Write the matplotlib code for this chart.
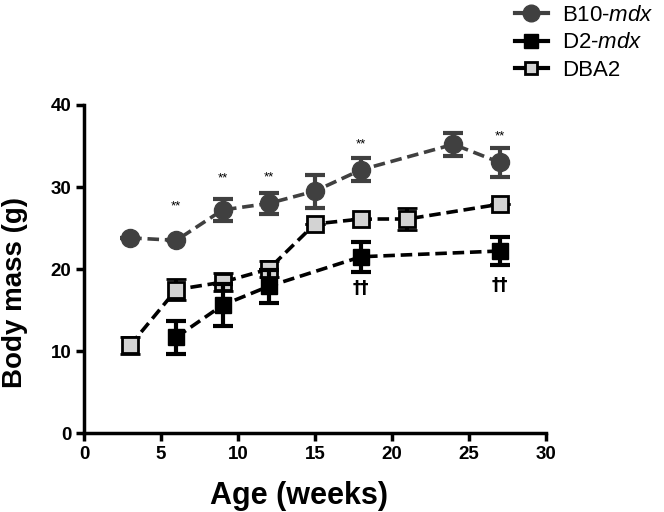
import numpy as np
import matplotlib
matplotlib.use('Agg')
import matplotlib.pyplot as plt
from matplotlib.lines import Line2D

plt.rcParams['font.family'] = ['Liberation Sans', 'DejaVu Sans']
plt.rcParams['mathtext.fontset'] = 'custom'
plt.rcParams['mathtext.it'] = 'Liberation Sans:italic'
plt.rcParams['mathtext.rm'] = 'Liberation Sans'

# B10-mdx
b10_age = [3, 6, 9, 12, 15, 18, 24, 27]
b10_mass = [23.8, 23.5, 27.2, 28.0, 29.5, 32.1, 35.2, 33.0]
b10_err = [0.0, 0.0, 1.3, 1.25, 2.0, 1.4, 1.4, 1.8]

# D2-mdx
d2_age = [6, 9, 12, 18, 27]
d2_mass = [11.7, 15.6, 17.9, 21.5, 22.2]
d2_err = [2.0, 2.6, 2.0, 1.8, 1.65]

# DBA2
dba_age = [3, 6, 9, 12, 15, 18, 21, 27]
dba_mass = [10.7, 17.5, 18.4, 20.0, 25.5, 26.1, 26.1, 27.9]
dba_err = [1.0, 1.3, 1.1, 1.0, 0.0, 0.0, 1.3, 0.0]

# significance marks
star_x = [6, 9, 12, 18, 27]
star_y = [27.6, 31.0, 31.2, 35.2, 36.2]
dagger_x = [18, 27]
dagger_y = [17.7, 18.0]

fig = plt.figure(figsize=(6.64, 5.12), dpi=100)
ax = fig.add_axes([0.1265, 0.154, 0.6955, 0.641])

dash = (0, (3.2, 1.6))
lw = 2.6

ax.errorbar(dba_age, dba_mass, yerr=dba_err, color='black', lw=lw,
            linestyle=dash, marker='s', markersize=11, mfc='#d3d3d3',
            mec='black', mew=2, capsize=7, capthick=3, elinewidth=3,
            zorder=3)
ax.errorbar(d2_age, d2_mass, yerr=d2_err, color='black', lw=lw,
            linestyle=dash, marker='s', markersize=11, mfc='black',
            mec='black', capsize=7, capthick=3, elinewidth=3, zorder=4)
ax.errorbar(b10_age, b10_mass, yerr=b10_err, color='#404040', lw=lw,
            linestyle=dash, marker='o', markersize=13, mfc='#404040',
            mec='#404040', capsize=7, capthick=3, elinewidth=3, zorder=5)

for x, y in zip(star_x, star_y):
    ax.text(x, y, '**', ha='center', va='center', fontsize=9.5)
for x, y in zip(dagger_x, dagger_y):
    ax.text(x, y, '\u2020\u2020', ha='center', va='center', fontsize=12,
            fontweight='bold', family=['DejaVu Sans'])

ax.set_xlim(0, 30)
ax.set_ylim(0, 40)
ax.set_xticks([0, 5, 10, 15, 20, 25, 30])
ax.set_yticks([0, 10, 20, 30, 40])
for s in ['top', 'right']:
    ax.spines[s].set_visible(False)
for s in ['left', 'bottom']:
    ax.spines[s].set_linewidth(2.5)
ax.tick_params(width=2.5, length=6, labelsize=13.5, pad=3)
for lab in ax.get_xticklabels() + ax.get_yticklabels():
    lab.set_fontweight('bold')

ax.set_xlabel('Age (weeks)', fontsize=22, fontweight='bold')
ax.set_ylabel('Body mass (g)', fontsize=20, fontweight='bold')
ax.xaxis.label.set_va('center')
ax.yaxis.label.set_va('center')
ax.xaxis.set_label_coords(0.465, -0.19)
ax.yaxis.set_label_coords(-0.149, 0.43)

handles = [
    Line2D([], [], color='#404040', lw=3, marker='o', markersize=12,
           mfc='#404040', mec='#404040'),
    Line2D([], [], color='black', lw=3, marker='s', markersize=10,
           mfc='black', mec='black'),
    Line2D([], [], color='black', lw=3, marker='s', markersize=9,
           mfc='#d3d3d3', mec='black', mew=2),
]
fig.legend(handles, ['B10-$mdx$', 'D2-$mdx$', 'DBA2'],
           loc='upper left', bbox_to_anchor=(0.745, 1.03), frameon=False,
           fontsize=16, handlelength=1.5, labelspacing=0.3, handletextpad=0.65)

fig.savefig('out.png', dpi=100)
